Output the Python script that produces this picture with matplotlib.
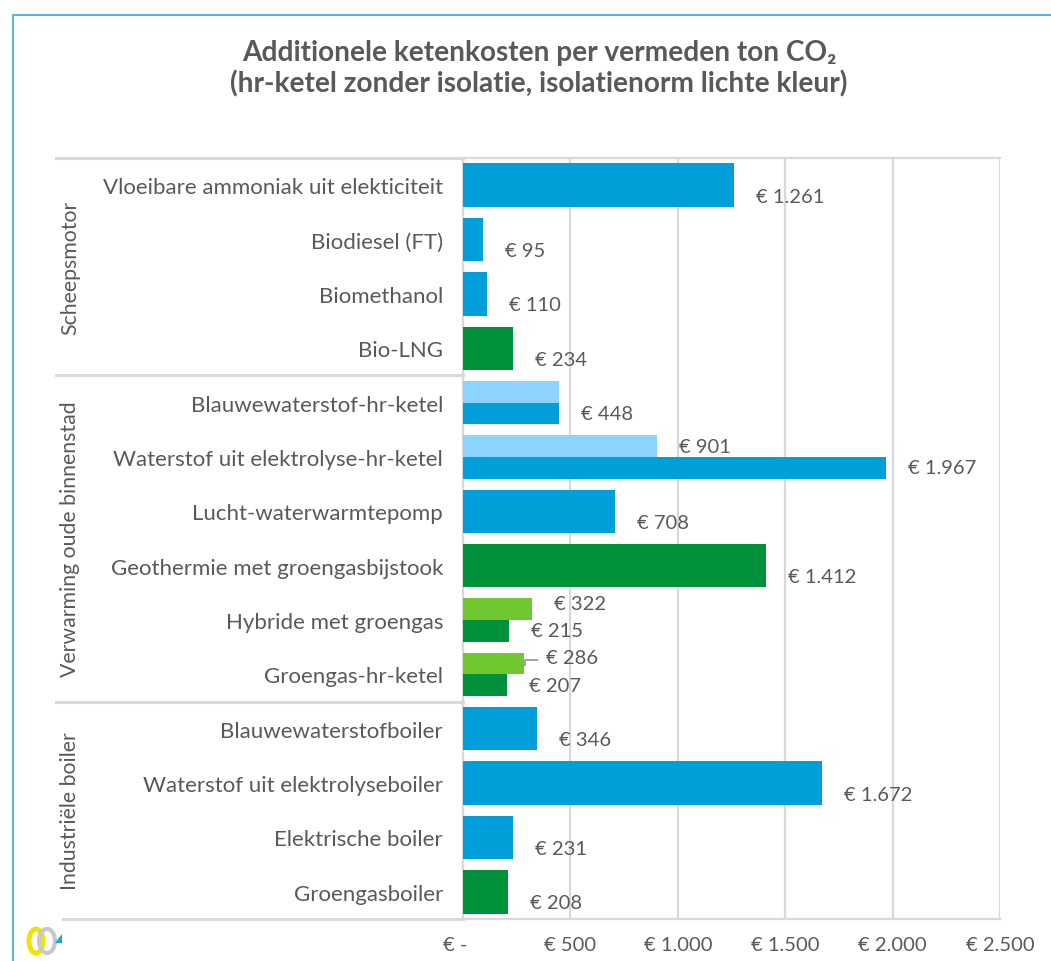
import matplotlib
matplotlib.use("Agg")
import matplotlib.pyplot as plt
import matplotlib.transforms as mtransforms
from matplotlib.patches import Ellipse, Polygon
from matplotlib.lines import Line2D

# ---------------- data ----------------
categories = [
    "Vloeibare ammoniak uit elekticiteit",
    "Biodiesel (FT)",
    "Biomethanol",
    "Bio-LNG",
    "Blauwewaterstof-hr-ketel",
    "Waterstof uit elektrolyse-hr-ketel",
    "Lucht-waterwarmtepomp",
    "Geothermie met groengasbijstook",
    "Hybride met groengas",
    "Groengas-hr-ketel",
    "Blauwewaterstofboiler",
    "Waterstof uit elektrolyseboiler",
    "Elektrische boiler",
    "Groengasboiler",
]
groups = ["Scheepsmotor", "Verwarming oude binnenstad", "Industriële boiler"]
group_sizes = [4, 6, 4]

# costs without insulation (hr-ketel zonder isolatie)
values_main = [1261, 95, 110, 234, 448, 1967, 708, 1412, 215, 207, 346, 1672, 231, 208]
# costs with insulation standard (lichte kleur); None = no bar
values_light = [None, None, None, None, 448, 901, None, None, 322, 286, None, None, None, None]
# technology type: 'blue' (hydrogen/electric) or 'green' (bio/green gas)
tech_type = ["blue", "blue", "blue", "green", "blue", "blue", "blue", "green",
             "green", "green", "blue", "blue", "blue", "green"]

xticks = [0, 500, 1000, 1500, 2000, 2500]
xtick_labels = ["€ -", "€ 500", "€ 1.000", "€ 1.500", "€ 2.000", "€ 2.500"]

title = "Additionele ketenkosten per vermeden ton CO\u2082\n(hr-ketel zonder isolatie, isolatienorm lichte kleur)"

# ---------------- style ----------------
W, H = 1051, 962
DPI = 100
FONT = "Lato"
TXT = "#595959"
GRID = "#d9d9d9"
dark_col = {"blue": "#009fda", "green": "#00913a"}
light_col = {"blue": "#8dd3ff", "green": "#71c72f"}
FS = 14.5        # value and tick labels
FS_CAT = 16      # category labels
FS_GRP = 15.3    # group labels

plt.rcParams["font.family"] = [FONT, "DejaVu Sans"]

def fmt(v):
    return "€ " + f"{v:,}".replace(",", ".")

fig = plt.figure(figsize=(W / DPI, H / DPI), dpi=DPI)
ax = fig.add_axes([463 / W, 1 - 920 / H, (1000 - 463) / W, (920 - 159) / H])

n = len(categories)
ax.set_xlim(0, 2500)
ax.set_ylim(n - 0.5, -0.5)

px = 72.0 / DPI  # points per pixel

for i in range(n):
    vm = values_main[i]
    vl = values_light[i]
    t = tech_type[i]
    if vl is None:
        ax.barh(i, vm, height=0.8, color=dark_col[t], zorder=3)
        ax.annotate(fmt(vm), (vm, i), xytext=(22 * px, -11 * px), textcoords="offset points",
                    ha="left", va="center", fontsize=FS, color=TXT)
    else:
        ax.barh(i - 0.2, vl, height=0.4, color=light_col[t], zorder=3)
        ax.barh(i + 0.2, vm, height=0.4, color=dark_col[t], zorder=3)
        ax.annotate(fmt(vm), (vm, i + 0.2), xytext=(22 * px, 0), textcoords="offset points",
                    ha="left", va="center", fontsize=FS, color=TXT)
        if vl != vm:
            dy = 0 if t == "blue" else 6
            ax.annotate(fmt(vl), (vl, i - 0.2), xytext=(22 * px, dy * px), textcoords="offset points",
                        ha="left", va="center", fontsize=FS, color=TXT)
            if t == "green" and vl < 300:
                # small leader line
                x0, y0 = ax.transData.transform((vl, i - 0.2))
                inv = fig.transFigure.inverted()
                p1 = inv.transform((x0 + 1, y0 + 4))
                p2 = inv.transform((x0 + 13, y0 + 4))
                p3 = inv.transform((x0 + 1, y0 - 1))
                fig.add_artist(Line2D([p3[0], p1[0], p2[0]], [p3[1], p1[1], p2[1]],
                                      color="#a6a6a6", lw=1.5))

# axes styling
ax.set_xticks(xticks)
ax.set_xticklabels(xtick_labels)
ax.set_yticks(range(n))
ax.set_yticklabels(categories)
ax.tick_params(axis="both", length=0, labelcolor=TXT)
ax.tick_params(axis="x", labelsize=FS, pad=17 * px)
ax.tick_params(axis="y", labelsize=FS_CAT, pad=20 * px)
lbls = ax.get_xticklabels()
lbls[0].set_horizontalalignment("right")
lbls[0].set_transform(lbls[0].get_transform() + mtransforms.ScaledTranslation(4 / DPI, 0, fig.dpi_scale_trans))
ax.grid(axis="x", color=GRID, lw=1.6, zorder=0)
ax.set_axisbelow(True)
for s in ax.spines.values():
    s.set_color(GRID)
    s.set_linewidth(1.6)
ax.spines["right"].set_visible(False)

# group separators and labels
blend = mtransforms.blended_transform_factory(fig.transFigure, ax.transData)
bounds = [-0.5]
for g in group_sizes:
    bounds.append(bounds[-1] + g)
for k, b in enumerate(bounds):
    x0 = 56 / W if k < len(bounds) - 1 else 63 / W
    ax.add_line(Line2D([x0, 463 / W], [b, b], transform=blend, color=GRID, lw=2.2, clip_on=False))
for k, gname in enumerate(groups):
    yc = (bounds[k] + bounds[k + 1]) / 2
    ax.text(70 / W, yc, gname, transform=blend, rotation=90, ha="center", va="center",
            fontsize=FS_GRP, color=TXT, clip_on=False)

# title
fig.text(539 / W, 1 - 69 / H, title, ha="center", va="center", fontsize=20.2,
         fontweight="bold", color=TXT, linespacing=1.2)

# frame border (left and top)
fig.add_artist(Line2D([12.5 / W, 12.5 / W, 1.0], [0, 1 - 15.5 / H, 1 - 15.5 / H],
                      color="#4fb9e8", lw=1.4))

# small logo
fig.add_artist(Ellipse((36 / W, 1 - 942 / H), 14 / W, 24 / H, fill=False, ec="#f2e200", lw=3.5))
fig.add_artist(Ellipse((47 / W, 1 - 942 / H), 16 / W, 24 / H, fill=False, ec="#c8c8c8", lw=3))
fig.add_artist(Polygon([(55 / W, 1 - 944 / H), (62 / W, 1 - 944 / H), (62 / W, 1 - 935 / H)],
                       closed=True, fc="#1aa3dd", ec="none"))

fig.savefig("out.png", dpi=DPI)
